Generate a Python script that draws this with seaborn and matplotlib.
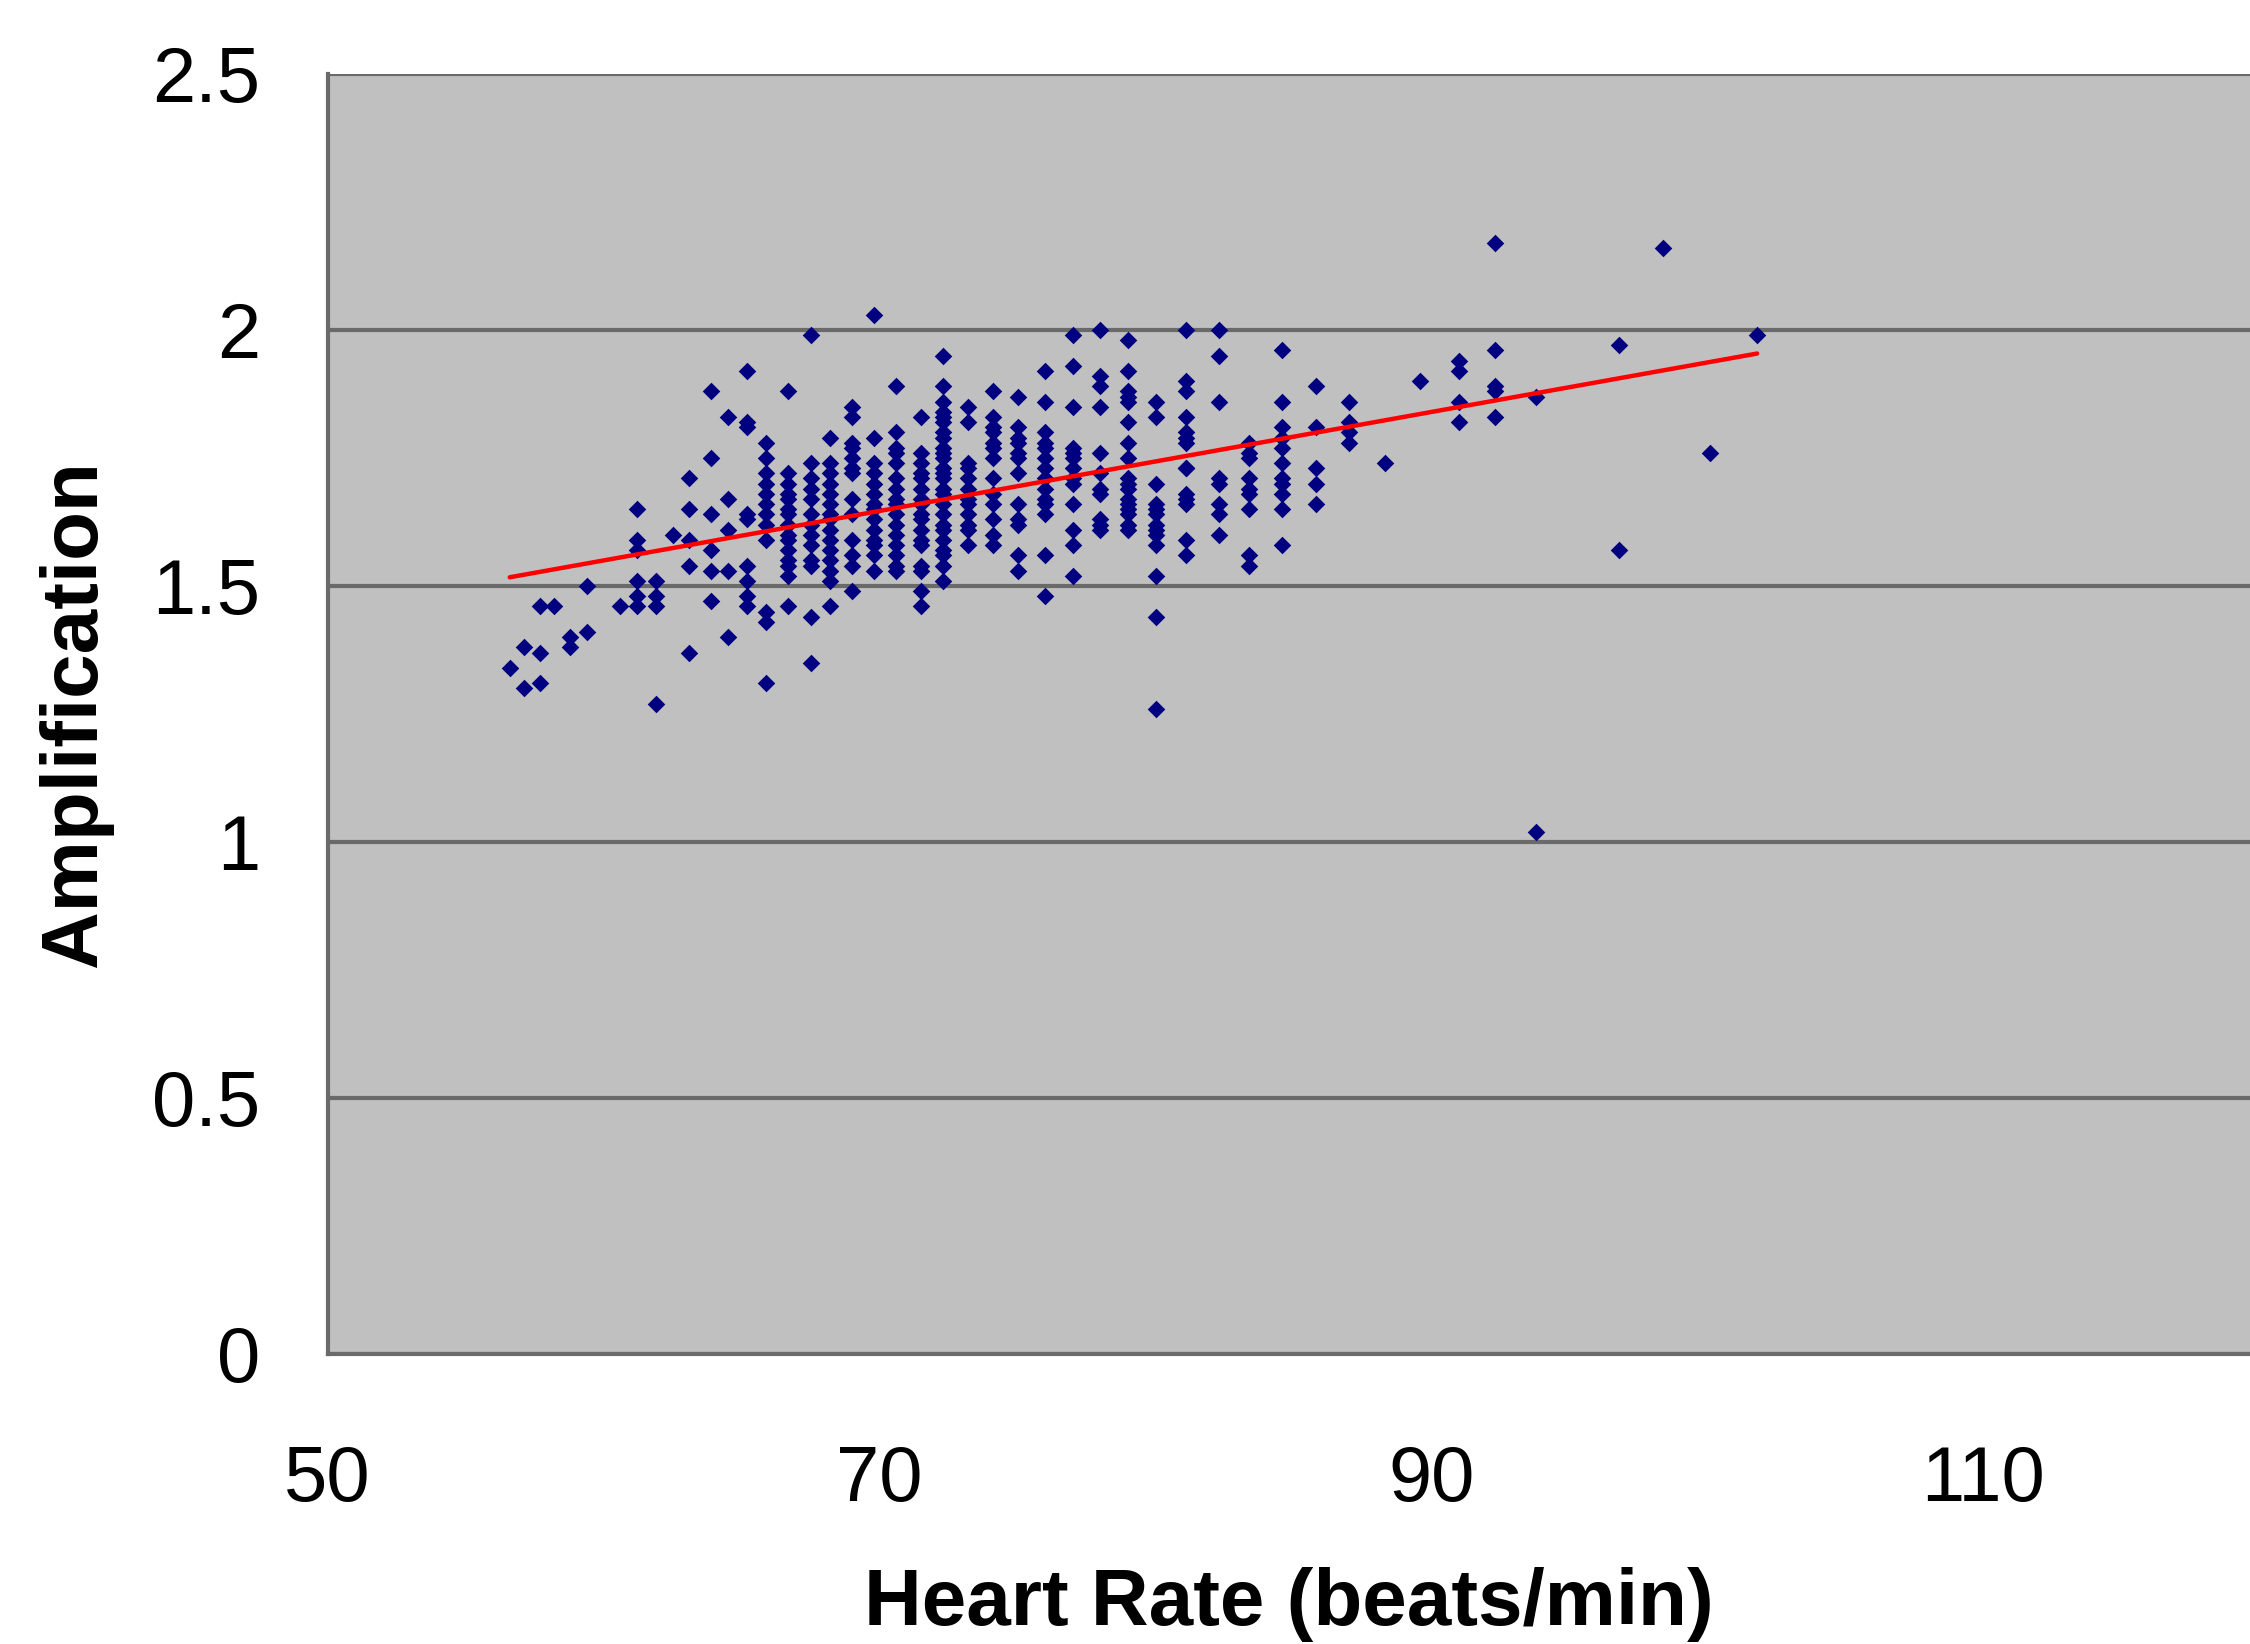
import numpy as np
import pandas as pd
import seaborn as sns
import matplotlib.pyplot as plt

# heart rate values (beats/min), one per column of points
hr_cols = [56.6, 57.1, 57.7, 58.2, 58.8, 59.4, 60.6, 61.2, 61.9, 62.5,
           63.1, 63.9, 64.5, 65.2, 65.9, 66.7, 67.5, 68.2, 69.0, 69.8,
           70.6, 71.5, 72.3, 73.2, 74.1, 75.0, 76.0, 77.0, 78.0, 79.0,
           80.0, 81.1, 82.3, 83.4, 84.6, 85.8, 87.0, 88.3, 89.6, 91.0,
           92.3, 93.8, 96.8, 98.4, 100.1, 101.8]

# amplification readings for each heart rate column
amp_cols = [
    [1.34],
    [1.38, 1.30],
    [1.46, 1.37, 1.31],
    [1.46],
    [1.40, 1.38],
    [1.50, 1.41],
    [1.46],
    [1.65, 1.59, 1.57, 1.51, 1.48, 1.46],
    [1.51, 1.48, 1.46, 1.27],
    [1.60],
    [1.71, 1.65, 1.59, 1.54, 1.37],
    [1.88, 1.75, 1.64, 1.57, 1.53, 1.47],
    [1.83, 1.67, 1.61, 1.53, 1.40],
    [1.92, 1.82, 1.81, 1.64, 1.63, 1.54, 1.51, 1.48, 1.46],
    [1.78, 1.75, 1.72, 1.70, 1.68, 1.66, 1.64, 1.62, 1.59, 1.45, 1.43, 1.31],
    [1.88, 1.72, 1.70, 1.68, 1.67, 1.65, 1.64, 1.62, 1.60, 1.59, 1.57, 1.55, 1.54, 1.52, 1.46],
    [1.99, 1.74, 1.71, 1.69, 1.67, 1.64, 1.62, 1.60, 1.58, 1.55, 1.54, 1.44, 1.35],
    [1.79, 1.74, 1.72, 1.70, 1.68, 1.66, 1.64, 1.63, 1.61, 1.59, 1.57, 1.55, 1.53, 1.51, 1.46],
    [1.85, 1.83, 1.78, 1.77, 1.75, 1.73, 1.72, 1.67, 1.64, 1.59, 1.56, 1.54, 1.49],
    [2.03, 1.79, 1.74, 1.72, 1.70, 1.68, 1.66, 1.65, 1.63, 1.61, 1.59, 1.58, 1.56, 1.53],
    [1.89, 1.80, 1.77, 1.76, 1.74, 1.71, 1.69, 1.67, 1.66, 1.64, 1.62, 1.60, 1.58, 1.56, 1.54, 1.53],
    [1.83, 1.76, 1.74, 1.72, 1.71, 1.69, 1.67, 1.66, 1.64, 1.63, 1.61, 1.59, 1.58, 1.54, 1.53, 1.49, 1.46],
    [1.95, 1.89, 1.86, 1.84, 1.83, 1.82, 1.80, 1.79, 1.77, 1.76, 1.75, 1.73, 1.72, 1.71, 1.69,
     1.68, 1.66, 1.64, 1.62, 1.61, 1.59, 1.57, 1.56, 1.54, 1.51],
    [1.85, 1.82, 1.74, 1.73, 1.71, 1.69, 1.67, 1.66, 1.64, 1.62, 1.61, 1.58],
    [1.88, 1.83, 1.81, 1.80, 1.78, 1.77, 1.75, 1.71, 1.68, 1.66, 1.63, 1.60, 1.58],
    [1.87, 1.81, 1.79, 1.78, 1.76, 1.75, 1.72, 1.66, 1.63, 1.62, 1.56, 1.53],
    [1.92, 1.86, 1.80, 1.78, 1.77, 1.75, 1.73, 1.71, 1.69, 1.67, 1.66, 1.64, 1.56, 1.48],
    [1.99, 1.93, 1.85, 1.77, 1.76, 1.75, 1.73, 1.71, 1.70, 1.66, 1.61, 1.58, 1.52],
    [2.00, 1.91, 1.89, 1.85, 1.76, 1.72, 1.69, 1.68, 1.63, 1.62, 1.61],
    [1.98, 1.92, 1.88, 1.87, 1.86, 1.82, 1.78, 1.75, 1.71, 1.70, 1.69, 1.67, 1.66, 1.65, 1.64, 1.62, 1.61],
    [1.86, 1.83, 1.70, 1.66, 1.65, 1.64, 1.62, 1.61, 1.60, 1.58, 1.52, 1.44, 1.26],
    [2.00, 1.90, 1.88, 1.83, 1.80, 1.79, 1.78, 1.73, 1.73, 1.68, 1.67, 1.66, 1.59, 1.56],
    [2.00, 1.95, 1.86, 1.71, 1.70, 1.66, 1.64, 1.60],
    [1.78, 1.76, 1.75, 1.71, 1.69, 1.68, 1.65, 1.56, 1.54],
    [1.96, 1.86, 1.81, 1.79, 1.77, 1.74, 1.71, 1.70, 1.68, 1.65, 1.58],
    [1.89, 1.81, 1.73, 1.70, 1.66],
    [1.86, 1.82, 1.80, 1.78],
    [1.74],
    [1.90],
    [1.94, 1.92, 1.86, 1.82],
    [2.17, 1.96, 1.89, 1.88, 1.83],
    [1.87, 1.02],
    [1.97, 1.57],
    [2.16],
    [1.76],
    [1.99],
]

# linear trend line as drawn in the chart (start and end)
trend_hr = [56.6, 101.8]
trend_amp = [1.517, 1.954]

x_ticks = [50, 70, 90, 110]
y_ticks = [0, 0.5, 1, 1.5, 2, 2.5]
y_tick_labels = ["0", "0.5", "1", "1.5", "2", "2.5"]

rows = [(h, a) for h, col in zip(hr_cols, amp_cols) for a in col]
df = pd.DataFrame(rows, columns=["hr", "amp"])
trend = pd.DataFrame({"hr": trend_hr, "amp": trend_amp})

sns.set_style("white")
plt.rcParams["font.family"] = ["Liberation Sans", "DejaVu Sans"]
plt.rcParams["text.color"] = "black"
plt.rcParams["axes.labelcolor"] = "black"

fig = plt.figure(figsize=(11.25, 8.22), dpi=200)
ax = fig.add_axes([0.1456, 0.1764, 0.8544, 0.7786])
ax.set_facecolor("#c0c0c0")

sns.scatterplot(data=df, x="hr", y="amp", marker="D", s=20, color="#000080",
                linewidth=0, ax=ax, zorder=3)
sns.lineplot(data=trend, x="hr", y="amp", color="red", linewidth=1.6,
             ax=ax, zorder=4)

ax.set_xlim(50, 119.66)
ax.set_ylim(0, 2.5)
ax.set_xticks(x_ticks)
ax.set_yticks(y_ticks)
ax.set_yticklabels(y_tick_labels)

grid_col = "#6a6a6a"
ax.yaxis.grid(True, color=grid_col, linewidth=1.5)
ax.xaxis.grid(False)
ax.set_axisbelow(True)

for side in ["top", "right"]:
    ax.spines[side].set_visible(False)
for side in ["left", "bottom"]:
    ax.spines[side].set_color(grid_col)
    ax.spines[side].set_linewidth(1.5)

ax.tick_params(axis="both", direction="out", length=9.4, width=1.0,
               color=grid_col, labelsize=28, labelcolor="black")
ax.tick_params(axis="y", pad=15)
ax.tick_params(axis="x", pad=23)

ax.set_xlabel("Heart Rate (beats/min)", fontsize=28.8, fontweight="bold", labelpad=18)
ax.set_ylabel("Amplification", fontsize=28.8, fontweight="bold", labelpad=14)

fig.savefig("out.png", dpi=200)
